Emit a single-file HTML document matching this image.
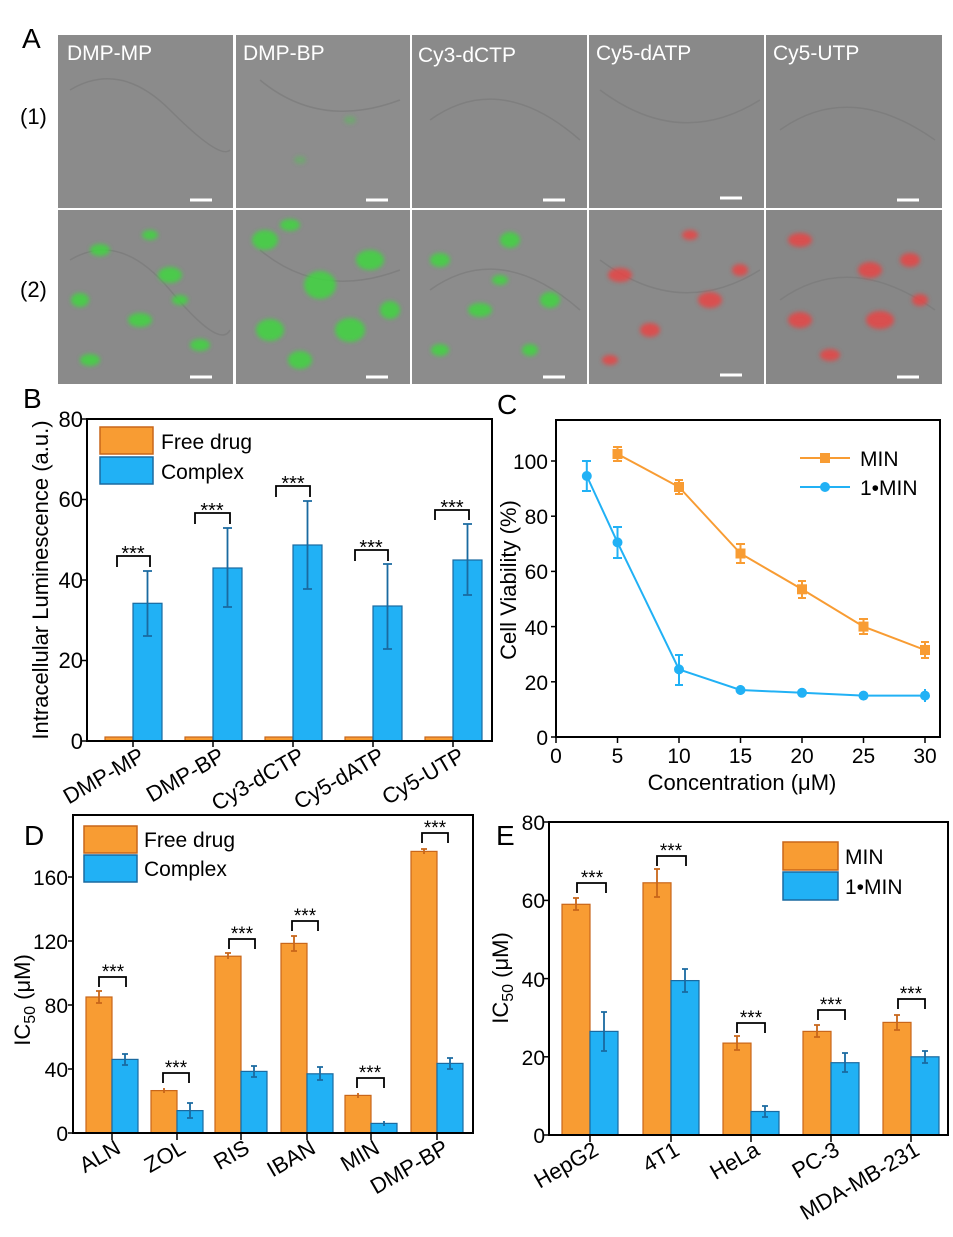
<!DOCTYPE html>
<html><head><meta charset="utf-8"><style>
body{margin:0;background:#fff}
svg{display:block;font-family:"Liberation Sans",Arial,sans-serif}
</style></head><body>
<svg width="953" height="1237" viewBox="0 0 953 1237" xmlns="http://www.w3.org/2000/svg">
<defs>
<filter id="bl"><feGaussianBlur stdDeviation="2"/></filter>
</defs>
<rect width="953" height="1237" fill="#fff"/>
<!-- Panel A -->
<text x="22" y="48" font-size="28">A</text>
<text x="20" y="124" font-size="22">(1)</text>
<text x="20" y="297" font-size="22">(2)</text>
<g>
<rect x="58" y="35" width="175" height="173" fill="#8b8b8b"/>
<rect x="236" y="35" width="174" height="173" fill="#8d8d8d"/>
<rect x="412" y="35" width="175" height="173" fill="#8a8a8a"/>
<rect x="589" y="35" width="175" height="173" fill="#898989"/>
<rect x="766" y="35" width="176" height="173" fill="#888"/>
<rect x="58" y="210" width="175" height="174" fill="#8a8a8a"/>
<rect x="236" y="210" width="174" height="174" fill="#8b8b8b"/>
<rect x="412" y="210" width="175" height="174" fill="#8c8c8c"/>
<rect x="589" y="210" width="175" height="174" fill="#8a8a8a"/>
<rect x="766" y="210" width="176" height="174" fill="#878787"/>
</g>
<g fill="none" stroke="#7a7a7a" stroke-width="1.5" opacity="0.7">
<path d="M70 90Q120 60 170 110T230 150M260 80Q320 130 400 100M430 120Q500 70 580 140M600 90Q680 150 760 100M780 130Q850 80 935 140"/>
<path d="M70 260Q120 230 170 290T230 330M260 250Q320 300 400 270M430 290Q500 240 580 310M600 260Q680 320 760 270M780 300Q850 250 935 310"/>
</g>
<g filter="url(#bl)" opacity="0.85">
<g fill="#3fd63f">
<ellipse cx="100" cy="250" rx="10" ry="6"/><ellipse cx="170" cy="275" rx="12" ry="8"/><ellipse cx="80" cy="300" rx="9" ry="7"/><ellipse cx="140" cy="320" rx="12" ry="7"/><ellipse cx="200" cy="345" rx="10" ry="6"/><ellipse cx="90" cy="360" rx="10" ry="6"/><ellipse cx="150" cy="235" rx="8" ry="5"/><ellipse cx="180" cy="300" rx="8" ry="5"/>
<ellipse cx="265" cy="240" rx="13" ry="10"/><ellipse cx="320" cy="285" rx="16" ry="14"/><ellipse cx="270" cy="330" rx="14" ry="11"/><ellipse cx="370" cy="260" rx="14" ry="10"/><ellipse cx="350" cy="330" rx="15" ry="12"/><ellipse cx="300" cy="360" rx="12" ry="9"/><ellipse cx="390" cy="310" rx="10" ry="9"/><ellipse cx="290" cy="225" rx="10" ry="6"/>
<ellipse cx="440" cy="260" rx="10" ry="7"/><ellipse cx="510" cy="240" rx="10" ry="8"/><ellipse cx="480" cy="310" rx="12" ry="7"/><ellipse cx="550" cy="300" rx="10" ry="8"/><ellipse cx="440" cy="350" rx="9" ry="6"/><ellipse cx="530" cy="350" rx="8" ry="6"/><ellipse cx="500" cy="280" rx="8" ry="5"/>
<ellipse cx="300" cy="160" rx="6" ry="4" opacity="0.4"/><ellipse cx="350" cy="120" rx="6" ry="4" opacity="0.4"/>
</g>
<g fill="#e84444">
<ellipse cx="620" cy="275" rx="12" ry="7"/><ellipse cx="690" cy="235" rx="8" ry="5"/><ellipse cx="710" cy="300" rx="12" ry="8"/><ellipse cx="650" cy="330" rx="10" ry="7"/><ellipse cx="740" cy="270" rx="8" ry="6"/><ellipse cx="610" cy="360" rx="8" ry="5"/>
<ellipse cx="800" cy="240" rx="12" ry="7"/><ellipse cx="870" cy="270" rx="12" ry="8"/><ellipse cx="910" cy="260" rx="10" ry="7"/><ellipse cx="800" cy="320" rx="12" ry="8"/><ellipse cx="880" cy="320" rx="14" ry="9"/><ellipse cx="830" cy="355" rx="10" ry="6"/><ellipse cx="920" cy="300" rx="8" ry="6"/>
</g>
</g>
<g fill="#fff" font-size="21">
<text x="67" y="60">DMP-MP</text><text x="243" y="60">DMP-BP</text><text x="418" y="62">Cy3-dCTP</text><text x="596" y="60">Cy5-dATP</text><text x="773" y="60">Cy5-UTP</text>
</g>
<g stroke="#fff" stroke-width="3">
<line x1="190" y1="200" x2="212" y2="200"/><line x1="366" y1="200" x2="388" y2="200"/><line x1="543" y1="200" x2="565" y2="200"/><line x1="720" y1="198" x2="742" y2="198"/><line x1="897" y1="200" x2="919" y2="200"/>
<line x1="190" y1="377" x2="212" y2="377"/><line x1="366" y1="377" x2="388" y2="377"/><line x1="543" y1="377" x2="565" y2="377"/><line x1="720" y1="375" x2="742" y2="375"/><line x1="897" y1="377" x2="919" y2="377"/>
</g>

<!-- Panel B -->
<text x="23" y="408" font-size="28">B</text>
<g font-size="22" text-anchor="end">
<text x="83" y="749">0</text><text x="83" y="668">20</text><text x="83" y="588">40</text><text x="83" y="507">60</text><text x="83" y="427">80</text>
</g>
<text transform="translate(48,580) rotate(-90)" font-size="22" text-anchor="middle">Intracellular Luminescence (a.u.)</text>
<g stroke="#000" stroke-width="1.5">
<line x1="87" y1="741" x2="82" y2="741"/><line x1="87" y1="660.5" x2="82" y2="660.5"/><line x1="87" y1="580" x2="82" y2="580"/><line x1="87" y1="499.5" x2="82" y2="499.5"/><line x1="87" y1="419" x2="82" y2="419"/>
<line x1="133" y1="741" x2="133" y2="747"/><line x1="213" y1="741" x2="213" y2="747"/><line x1="293" y1="741" x2="293" y2="747"/><line x1="373" y1="741" x2="373" y2="747"/><line x1="453" y1="741" x2="453" y2="747"/>
</g>
<g fill="#f89c33" stroke="#c8661a" stroke-width="1.2">
<rect x="105" y="737" width="28" height="4"/><rect x="185" y="737" width="28" height="4"/><rect x="265" y="737" width="28" height="4"/><rect x="345" y="737" width="28" height="4"/><rect x="425" y="737" width="28" height="4"/>
</g>
<g fill="#21b1f5" stroke="#1a6aa0" stroke-width="1.2">
<rect x="133" y="603.3" width="29" height="137.7"/><rect x="213" y="568" width="29" height="173"/><rect x="293" y="545" width="29" height="196"/><rect x="373" y="606" width="29" height="135"/><rect x="453" y="560" width="29" height="181"/>
</g>
<g stroke="#1a6aa0" stroke-width="1.8">
<path d="M147.5 636V571M143 571h9M143 636h9"/>
<path d="M227.5 607V528M223 528h9M223 607h9"/>
<path d="M307.5 589V501M303 501h9M303 589h9"/>
<path d="M387.5 649V564M383 564h9M383 649h9"/>
<path d="M467.5 595V524M463 524h9M463 595h9"/>
</g>
<rect x="87" y="419" width="405" height="322" fill="none" stroke="#000" stroke-width="2"/>
<g fill="none" stroke="#000" stroke-width="1.8">
<path d="M117 567V556H150V567"/><path d="M195 524V513H230V524"/><path d="M276 497V486H310V497"/><path d="M355 561V550H388V561"/><path d="M435 520V510H469V520"/>
</g>
<g font-size="20" text-anchor="middle">
<text x="133" y="560">***</text><text x="212" y="517">***</text><text x="293" y="490">***</text><text x="371" y="554">***</text><text x="452" y="514">***</text>
</g>
<rect x="100" y="427" width="53" height="27" fill="#f89c33" stroke="#c8661a" stroke-width="1.5"/>
<rect x="100" y="457" width="53" height="27" fill="#21b1f5" stroke="#1a6aa0" stroke-width="1.5"/>
<text x="161" y="449" font-size="21">Free drug</text>
<text x="161" y="479" font-size="21">Complex</text>
<g font-size="22" text-anchor="end">
<text transform="translate(146,760) rotate(-30)">DMP-MP</text>
<text transform="translate(226,760) rotate(-30)">DMP-BP</text>
<text transform="translate(306,760) rotate(-30)">Cy3-dCTP</text>
<text transform="translate(386,760) rotate(-30)">Cy5-dATP</text>
<text transform="translate(466,760) rotate(-30)">Cy5-UTP</text>
</g>

<!-- Panel C -->
<text x="497" y="414" font-size="28">C</text>
<g stroke="#000" stroke-width="1.5">
<line x1="556" y1="737" x2="551" y2="737"/><line x1="556" y1="681.8" x2="551" y2="681.8"/><line x1="556" y1="626.6" x2="551" y2="626.6"/><line x1="556" y1="571.4" x2="551" y2="571.4"/><line x1="556" y1="516.2" x2="551" y2="516.2"/><line x1="556" y1="461" x2="551" y2="461"/>
<line x1="556" y1="737" x2="556" y2="743"/><line x1="617.5" y1="737" x2="617.5" y2="743"/><line x1="679" y1="737" x2="679" y2="743"/><line x1="740.5" y1="737" x2="740.5" y2="743"/><line x1="802" y1="737" x2="802" y2="743"/><line x1="863.5" y1="737" x2="863.5" y2="743"/><line x1="925" y1="737" x2="925" y2="743"/>
</g>
<rect x="556" y="420" width="384" height="317" fill="none" stroke="#000" stroke-width="2"/>
<g font-size="21" text-anchor="end">
<text x="548" y="745">0</text><text x="548" y="690">20</text><text x="548" y="635">40</text><text x="548" y="579">60</text><text x="548" y="524">80</text><text x="548" y="469">100</text>
</g>
<g font-size="21" text-anchor="middle">
<text x="556" y="763">0</text><text x="617.5" y="763">5</text><text x="679" y="763">10</text><text x="740.5" y="763">15</text><text x="802" y="763">20</text><text x="863.5" y="763">25</text><text x="925" y="763">30</text>
</g>
<text x="742" y="790" font-size="22" text-anchor="middle">Concentration (μM)</text>
<text transform="translate(516,580) rotate(-90)" font-size="22" text-anchor="middle">Cell Viability (%)</text>
<g stroke="#f89c33" stroke-width="2" fill="none">
<polyline points="617.5,454 679,487 740.5,553.5 802,589.3 863.5,626.6 925,650"/>
<path d="M617.5 447V461M613 447h9M613 461h9M679 480V494M675 480h8M675 494h8M740.5 544V563M736 544h9M736 563h9M802 581V598M798 581h8M798 598h8M863.5 619V634M859 619h9M859 634h9M925 642V658M921 642h8M921 658h8"/>
</g>
<g fill="#f89c33">
<rect x="612.5" y="449" width="10" height="10"/><rect x="674" y="482" width="10" height="10"/><rect x="735.5" y="548.5" width="10" height="10"/><rect x="797" y="584.3" width="10" height="10"/><rect x="858.5" y="621.6" width="10" height="10"/><rect x="920" y="645" width="10" height="10"/>
</g>
<g stroke="#21b1f5" stroke-width="2" fill="none">
<polyline points="586.8,476 617.5,542.4 679,669.4 740.5,690 802,692.8 863.5,695.6 925,695.6"/>
<path d="M586.8 461V491M582 461h9M582 491h9M617.5 527V558M613 527h9M613 558h9M679 655V685M675 655h8M675 685h8M740.5 685V695M802 688V697M863.5 691V700M925 689V702"/>
</g>
<g fill="#21b1f5">
<circle cx="586.8" cy="476" r="5"/><circle cx="617.5" cy="542.4" r="5"/><circle cx="679" cy="669.4" r="5"/><circle cx="740.5" cy="690" r="5"/><circle cx="802" cy="692.8" r="5"/><circle cx="863.5" cy="695.6" r="5"/><circle cx="925" cy="695.6" r="5"/>
</g>
<line x1="800" y1="458" x2="850" y2="458" stroke="#f89c33" stroke-width="2"/>
<rect x="820" y="453" width="10" height="10" fill="#f89c33"/>
<line x1="800" y1="487" x2="850" y2="487" stroke="#21b1f5" stroke-width="2"/>
<circle cx="825" cy="487" r="5" fill="#21b1f5"/>
<text x="860" y="466" font-size="21">MIN</text>
<text x="860" y="495" font-size="21">1•MIN</text>

<!-- Panel D -->
<text x="24" y="845" font-size="28">D</text>
<g stroke="#000" stroke-width="1.5">
<line x1="73" y1="1133" x2="68" y2="1133"/><line x1="73" y1="1069" x2="68" y2="1069"/><line x1="73" y1="1005" x2="68" y2="1005"/><line x1="73" y1="941" x2="68" y2="941"/><line x1="73" y1="877" x2="68" y2="877"/>
<line x1="112" y1="1133" x2="112" y2="1140"/><line x1="177" y1="1133" x2="177" y2="1140"/><line x1="241" y1="1133" x2="241" y2="1140"/><line x1="307" y1="1133" x2="307" y2="1140"/><line x1="371" y1="1133" x2="371" y2="1140"/><line x1="437" y1="1133" x2="437" y2="1140"/>
</g>
<g font-size="21" text-anchor="end">
<text x="68" y="1141">0</text><text x="68" y="1077">40</text><text x="68" y="1013">80</text><text x="68" y="949">120</text><text x="68" y="885">160</text>
</g>
<text transform="translate(30,1000) rotate(-90)" font-size="22" text-anchor="middle">IC<tspan font-size="16" dy="5">50</tspan><tspan dy="-5"> (μM)</tspan></text>
<g fill="#f89c33" stroke="#c8661a" stroke-width="1.2">
<rect x="86" y="997" width="26" height="136"/><rect x="151" y="1090.6" width="26" height="42.4"/><rect x="215" y="956.2" width="26" height="176.8"/><rect x="281" y="943.4" width="26" height="189.6"/><rect x="345" y="1095.4" width="26" height="37.6"/><rect x="411" y="851.4" width="26" height="281.6"/>
</g>
<g fill="#21b1f5" stroke="#1a6aa0" stroke-width="1.2">
<rect x="112" y="1059.4" width="26" height="73.6"/><rect x="177" y="1110.6" width="26" height="22.4"/><rect x="241" y="1071.4" width="26" height="61.6"/><rect x="307" y="1073.8" width="26" height="59.2"/><rect x="371" y="1123.4" width="26" height="9.6"/><rect x="437" y="1063.4" width="26" height="69.6"/>
</g>
<g stroke="#c8661a" stroke-width="1.8">
<path d="M99 991V1003M96 991h6M96 1003h6M164 1088V1093M228 953V959M225 953h6M294 936V951M291 936h6M291 951h6M358 1093V1098M424 849V854M421 849h6"/>
</g>
<g stroke="#1a6aa0" stroke-width="1.8">
<path d="M125 1054V1065M122 1054h6M122 1065h6M190 1103V1118M187 1103h6M187 1118h6M254 1066V1077M251 1066h6M251 1077h6M320 1067V1080M317 1067h6M317 1080h6M384 1121V1126M450 1058V1069M447 1058h6M447 1069h6"/>
</g>
<rect x="73" y="815" width="400" height="318" fill="none" stroke="#000" stroke-width="2"/>
<g fill="none" stroke="#000" stroke-width="1.8">
<path d="M99 987V977H126V987"/><path d="M163 1083V1073H189V1083"/><path d="M229 949V939H255V949"/><path d="M292 931V921H318V931"/><path d="M357 1088V1078H384V1088"/><path d="M422 843V833H448V843"/>
</g>
<g font-size="19" text-anchor="middle">
<text x="113" y="978">***</text><text x="176" y="1074">***</text><text x="242" y="940">***</text><text x="305" y="922">***</text><text x="370" y="1079">***</text><text x="435" y="834">***</text>
</g>
<rect x="84" y="826" width="53" height="27" fill="#f89c33" stroke="#c8661a" stroke-width="1.5"/>
<rect x="84" y="855" width="53" height="27" fill="#21b1f5" stroke="#1a6aa0" stroke-width="1.5"/>
<text x="144" y="847" font-size="21">Free drug</text>
<text x="144" y="876" font-size="21">Complex</text>
<g font-size="22" text-anchor="end">
<text transform="translate(122,1152) rotate(-30)">ALN</text>
<text transform="translate(187,1152) rotate(-30)">ZOL</text>
<text transform="translate(251,1152) rotate(-30)">RIS</text>
<text transform="translate(317,1152) rotate(-30)">IBAN</text>
<text transform="translate(381,1152) rotate(-30)">MIN</text>
<text transform="translate(450,1152) rotate(-30)">DMP-BP</text>
</g>

<!-- Panel E -->
<text x="496" y="845" font-size="28">E</text>
<g stroke="#000" stroke-width="1.5">
<line x1="549" y1="1135" x2="544" y2="1135"/><line x1="549" y1="1056.8" x2="544" y2="1056.8"/><line x1="549" y1="978.6" x2="544" y2="978.6"/><line x1="549" y1="900.4" x2="544" y2="900.4"/><line x1="549" y1="822" x2="544" y2="822"/>
<line x1="590" y1="1135" x2="590" y2="1142"/><line x1="671" y1="1135" x2="671" y2="1142"/><line x1="751" y1="1135" x2="751" y2="1142"/><line x1="831" y1="1135" x2="831" y2="1142"/><line x1="911" y1="1135" x2="911" y2="1142"/>
</g>
<g font-size="21" text-anchor="end">
<text x="545" y="1143">0</text><text x="545" y="1065">20</text><text x="545" y="987">40</text><text x="545" y="908">60</text><text x="545" y="830">80</text>
</g>
<text transform="translate(508,978) rotate(-90)" font-size="22" text-anchor="middle">IC<tspan font-size="16" dy="5">50</tspan><tspan dy="-5"> (μM)</tspan></text>
<g fill="#f89c33" stroke="#c8661a" stroke-width="1.2">
<rect x="562" y="904.3" width="28" height="230.7"/><rect x="643" y="882.8" width="28" height="252.2"/><rect x="723" y="1043.1" width="28" height="91.9"/><rect x="803" y="1031.4" width="28" height="103.6"/><rect x="883" y="1022.4" width="28" height="112.6"/>
</g>
<g fill="#21b1f5" stroke="#1a6aa0" stroke-width="1.2">
<rect x="590" y="1031.4" width="28" height="103.6"/><rect x="671" y="980.6" width="28" height="154.4"/><rect x="751" y="1111.5" width="28" height="23.5"/><rect x="831" y="1062.7" width="28" height="72.3"/><rect x="911" y="1056.8" width="28" height="78.2"/>
</g>
<g stroke="#c8661a" stroke-width="1.8">
<path d="M576 898V910M573 898h6M573 910h6M657 869V897M654 869h6M654 897h6M737 1036V1050M734 1036h6M734 1050h6M817 1025V1037M814 1025h6M814 1037h6M897 1015V1030M894 1015h6M894 1030h6"/>
</g>
<g stroke="#1a6aa0" stroke-width="1.8">
<path d="M604 1012V1051M601 1012h6M601 1051h6M685 969V992M682 969h6M682 992h6M765 1106V1117M762 1106h6M762 1117h6M845 1053V1072M842 1053h6M842 1072h6M925 1051V1063M922 1051h6M922 1063h6"/>
</g>
<rect x="549" y="822" width="399" height="313" fill="none" stroke="#000" stroke-width="2"/>
<g fill="none" stroke="#000" stroke-width="1.8">
<path d="M577 893V883H606V893"/><path d="M657 866V856H686V866"/><path d="M737 1033V1023H765V1033"/><path d="M818 1020V1010H845V1020"/><path d="M898 1009V999H925V1009"/>
</g>
<g font-size="19" text-anchor="middle">
<text x="592" y="884">***</text><text x="671" y="857">***</text><text x="751" y="1024">***</text><text x="831" y="1011">***</text><text x="911" y="1000">***</text>
</g>
<rect x="783" y="842" width="55" height="28" fill="#f89c33" stroke="#c8661a" stroke-width="1.5"/>
<rect x="783" y="872" width="55" height="28" fill="#21b1f5" stroke="#1a6aa0" stroke-width="1.5"/>
<text x="845" y="864" font-size="21">MIN</text>
<text x="845" y="894" font-size="21">1•MIN</text>
<g font-size="22" text-anchor="end">
<text transform="translate(600,1154) rotate(-30)">HepG2</text>
<text transform="translate(681,1154) rotate(-30)">4T1</text>
<text transform="translate(761,1154) rotate(-30)">HeLa</text>
<text transform="translate(841,1154) rotate(-30)">PC-3</text>
<text transform="translate(921,1154) rotate(-30)">MDA-MB-231</text>
</g>
</svg>
</body></html>
